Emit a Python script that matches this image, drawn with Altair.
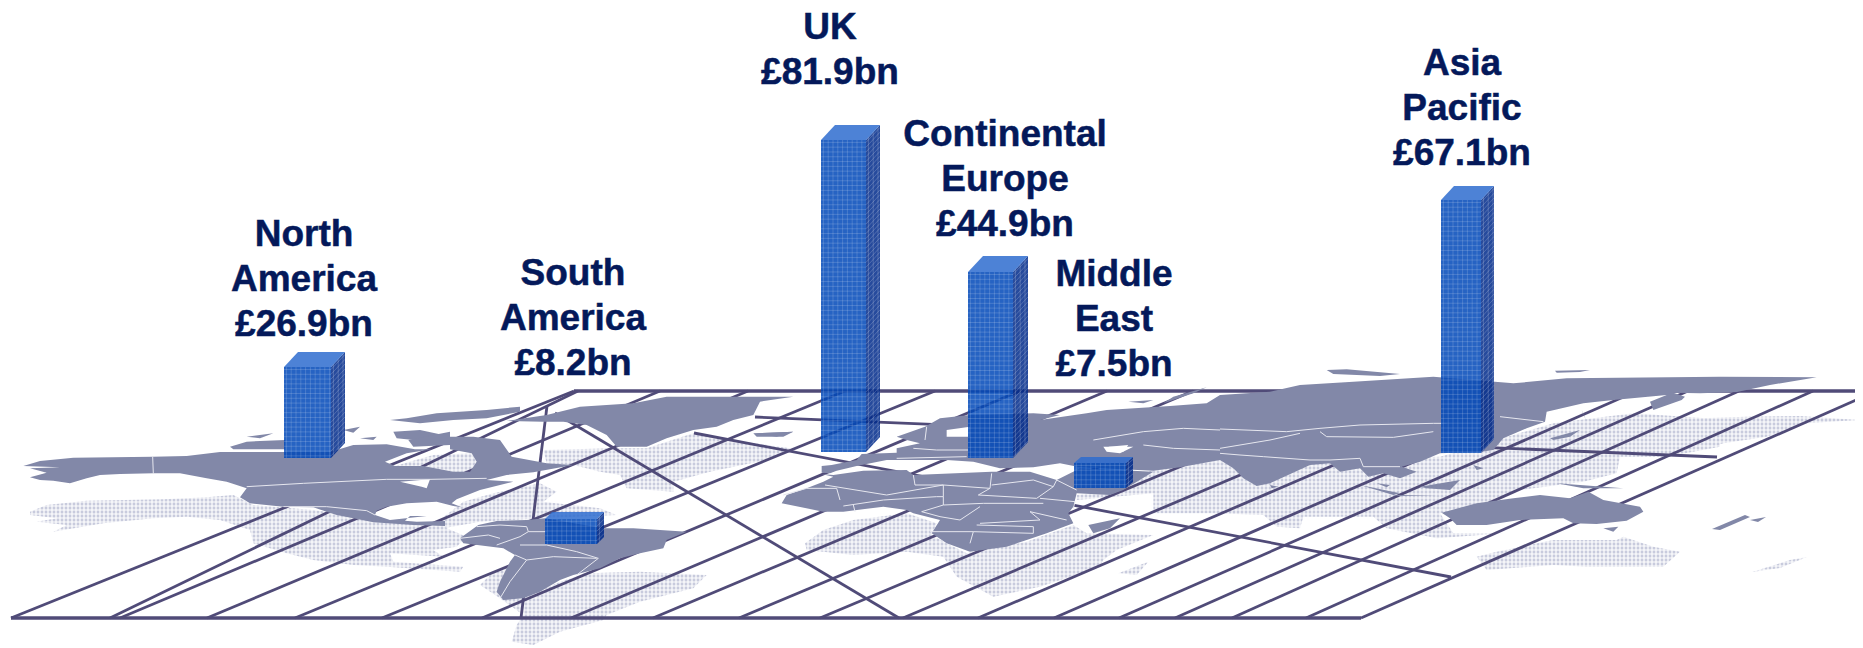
import altair as alt
import pandas as pd

# ---------- values ----------
REGIONS = ["North America", "South America", "UK", "Continental Europe", "Middle East", "Asia Pacific"]
VALUES = [26.9, 8.2, 81.9, 44.9, 7.5, 67.1]
BAR_LEFT = [284, 545, 821, 968, 1074, 1441]
BAR_RIGHT = [331, 597, 866, 1013, 1126, 1481]
BAR_BASE = [458, 544, 452, 458, 488, 453]
BAR_DX = [14, 7, 14, 15, 7, 13]
BAR_DY = [15, 7, 15, 16, 6, 14]
PX_PER_BN = [3.38, 3.05, 3.81, 4.14, 3.33, 3.77]

LABEL_LINES = [["North", "America", "£26.9bn"], ["South", "America", "£8.2bn"], ["UK", "£81.9bn"],
               ["Continental", "Europe", "£44.9bn"], ["Middle", "East", "£7.5bn"], ["Asia", "Pacific", "£67.1bn"]]
LABEL_X = [304, 573, 830, 1005, 1114, 1462]
LABEL_Y0 = [234.5, 273.5, 27.5, 134.5, 274.5, 63.5]
LINE_GAP = 45

GRID_BOTTOM = [11, 110, 120, 207, 295, 382, 482, 571, 653, 739, 820, 903, 978, 1054, 1119, 1175, 1232, 1306]
GRID_TOP = [574, 578, 660, 748, 845, 935, 1020, 1107, 1193, 1280, 1360, 1438, 1506, 1577, 1637, 1688, 1739, 1813]
GRID_Y_BOTTOM, GRID_Y_TOP = 618, 391
EDGE_LINES = [(1361, 618, 1863, 397), (555, 413, 899, 618), (694, 433, 1451, 577), (755, 417, 1717, 457), (547, 406, 521, 618)]
FRAME_LINES = [(11, 618, 1361, 618), (574, 391, 1863, 391)]

Z4, Z5, Z6, Z7, Z9, S = (20, 390), (400, 385), (740, 380), (1220, 360), (1700, 380), None

LAND = [
 (Z4, [(10,228),(60,213),(160,203),(398,200),(500,198),(600,186),(800,186),(930,186),(1000,165),(1100,163),(1185,178),(1235,178),(1160,190),(1095,215),(1125,228),(1210,228),(1300,245),(1350,245),(1370,215),(1355,190),(1290,178),(1290,140),(1360,140),(1440,150),(1475,200),(1580,220),(1660,225),(1540,247),(1460,255),(1400,270),(1480,275),(1380,300),(1310,328),(1295,340),(1325,352),(1300,348),(1250,335),(1160,340),(1100,350),(1070,362),(1065,375),(1110,390),(1220,378),(1170,378),(1155,392),(1190,395),(1275,393),(1275,408),(1180,405),(1060,397),(1000,385),(950,375),(880,352),(790,350),(690,340),(660,322),(680,295),(620,275),(560,265),(480,250),(400,250),(300,252),(240,255),(200,265),(150,280),(100,272),(60,270),(30,262),(80,248),(30,235),(120,232)]),
 (Z4, [(630,170),(680,155),(795,150),(795,178),(640,178)]),
 (Z4, [(680,140),(760,130),(720,145)]),
 (Z4, [(970,120),(1020,110),(1000,128)]),
 (Z4, [(1110,90),(1160,85),(1250,70),(1400,60),(1500,50),(1500,65),(1400,85),(1300,90),(1200,100)]),
 (Z4, [(1120,125),(1200,120),(1270,135),(1180,150),(1130,145)]),
 (Z4, [(1020,145),(1070,140),(1060,150)]),
 (Z4, [(1165,150),(1290,125),(1290,165),(1180,170)]),
 (Z5, [(320,108),(440,90),(540,65),(700,55),(800,35),(1000,35),(1180,35),(1080,50),(1060,90),(1000,105),(950,125),(880,135),(800,160),(740,185),(650,185),(620,150),(560,120),(490,110),(430,110)]),
 (Z5, [(180,460),(235,420),(290,408),(380,405),(435,400),(610,430),(700,430),(860,440),(800,465),(790,490),(720,505),(660,520),(600,550),(520,570),(480,585),(420,620),(370,640),(310,645),(290,620),(300,590),(330,530),(345,510),(310,490),(190,475)]),
 (Z5, [(1060,145),(1180,140),(1130,155)]),
 (Z6, [(245,258),(275,255),(350,240),(365,222),(470,218),(470,205),(540,190),(500,180),(470,170),(555,140),(600,115),(690,105),(880,100),(960,105),(900,120),(1040,100),(1100,90),(1290,78),(1400,70),(1440,45),(1590,35),(1680,15),(1840,5),(2080,-10),(2320,10),(2480,-5),(2940,-10),(3230,-8),(3090,15),(2991,36),(2880,40),(2800,38),(2835,50),(2825,60),(2740,90),(2730,65),(2780,45),(2620,60),(2530,70),(2420,95),(2415,125),(2360,145),(2290,175),(2260,210),(2225,215),(2100,220),(2040,245),(1985,260),(2030,275),(1980,295),(1930,280),(1885,290),(1860,265),(1800,275),(1770,250),(1710,255),(1590,310),(1550,318),(1510,295),(1480,265),(1440,240),(1320,262),(1240,272),(1020,262),(960,250),(880,262),(780,265),(700,245),(620,240),(560,240),(440,240),(350,258),(290,272),(270,280),(245,278)]),
 (Z6, [(245,282),(280,285),(370,272),(500,270),(520,285),(755,275),(870,275),(950,300),(1010,270),(1020,265),(1240,275),(1150,330),(1110,345),(1010,340),(1000,380),(985,400),(1000,430),(920,460),(860,480),(800,500),(690,515),(620,490),(575,460),(600,420),(520,400),(500,390),(430,380),(310,395),(250,395),(125,370),(140,345),(200,325),(250,305),(280,290)]),
 (Z6, [(40,160),(160,155),(130,170),(50,170)]),
 (Z6, [(1045,435),(1140,415),(1110,445),(1060,460)]),
 (Z6, [(1165,65),(1240,60),(1210,70)]),
 (Z6, [(1270,70),(1360,40),(1400,22),(1300,50)]),
 (Z7, [(320,30),(380,28),(540,42),(480,48),(340,42)]),
 (Z7, [(1005,32),(1110,30),(1080,36),(1010,38)]),
 (Z7, [(990,235),(1080,210),(1050,230),(1000,240)]),
 (Z7, [(1085,150),(1100,185),(1090,160)]),
 (Z7, [(600,380),(720,360),(690,390),(620,385)]),
 (Z7, [(1010,370),(1210,385),(1090,385)]),
 (Z7, [(470,370),(510,375),(500,382)]),
 (Z7, [(420,375),(540,400),(520,405)]),
 (Z7, [(520,405),(650,405),(540,408)]),
 (Z7, [(760,315),(790,325),(770,330)]),
 (Z7, [(150,375),(175,380),(155,385)]),
 (Z7, [(665,458),(770,430),(880,415),(960,405),(1050,415),(1105,395),(1150,420),(1260,440),(1270,455),(1220,482),(1130,492),(1060,490),(1030,475),(900,480),(800,495),(710,495),(690,475)]),
 (Z7, [(1150,505),(1195,500),(1180,515)]),
 (S, [(1712,529),(1745,515),(1750,517),(1720,530)]),
 (S, [(1750,520),(1766,517),(1758,522)]),
]

DOTS = [
 (Z4, [(30,365),(80,345),(200,332),(430,328),(560,322),(640,315),(700,345),(880,360),(1060,385),(1270,410),(1340,440),(1310,470),(1240,480),(1270,500),(1110,490),(1120,515),(1330,530),(1320,545),(1100,530),(1000,525),(880,510),(800,490),(700,460),(690,420),(600,390),(500,380),(400,385),(250,400),(100,425),(140,405),(50,395),(110,385),(30,375)]),
 (Z4, [(1125,228),(1210,228),(1300,245),(1350,245),(1370,215),(1355,190),(1240,195)]),
 (Z5, [(430,195),(640,190),(740,190),(880,145),(1000,165),(1170,190),(1100,225),(930,260),(820,290),(820,320),(680,310),(660,270),(600,260),(520,240),(440,235)]),
 (Z5, [(190,350),(280,325),(420,295),(470,320),(430,350),(600,370),(650,390),(430,400),(240,410),(130,430),(0,440),(0,490),(120,470),(180,470),(100,420)]),
 (Z5, [(240,600),(280,560),(330,545),(300,620),(370,640),(480,590),(560,565),(720,560),(920,570),(880,610),(720,650),(620,690),(610,705),(480,740),(400,780),(335,770),(350,720),(370,690),(300,640)]),
 (Z6, [(195,490),(250,450),(340,420),(500,400),(590,430),(575,465),(620,490),(680,520),(860,485),(1000,435),(1040,460),(1240,465),(1130,510),(1090,540),(1080,560),(900,620),(760,650),(650,590),(610,530),(500,515),(340,525),(200,510)]),
 (Z6, [(1135,580),(1225,545),(1190,585)]),
 (Z7, [(-430,405),(-280,390),(-200,325),(0,300),(660,290),(1000,190),(1240,160),(1460,175),(1500,180),(1500,260),(1340,290),(1200,290),(1190,340),(1090,365),(900,390),(770,440),(660,460),(700,520),(850,520),(650,535),(500,505),(460,470),(250,470),(240,505),(170,500),(130,465),(-20,460),(-200,460),(-200,400),(-430,420)]),
 (Z7, [(770,590),(830,575),(1000,540),(1190,540),(1210,530),(1300,560),(1380,575),(1330,620),(1100,620),(1000,615),(800,630)]),
 (Z9, [(0,115),(140,110),(300,108),(480,120),(320,130),(200,170),(70,190),(0,210)]),
 (S, [(1752,572),(1790,560),(1807,557),(1780,568)]),
]

SEAS = [
 (Z6, [(1090,200),(1180,200),(1140,220),(1100,215)]),
 (Z6, [(620,150),(690,140),(690,170),(620,170)]),
 (Z6, [(1105,200),(1165,195),(1150,215)]),
 (Z4, [(1140,275),(1230,268),(1220,295),(1205,290)]),
]

BORDERS = [
 (Z4, [(398,200),(400,252)]),
 (Z4, [(680,290),(850,280),(1100,268),(1230,268),(1400,265)]),
 (Z4, [(790,350),(920,350),(1040,362),(1065,375)]),
 (Z5, [(230,425),(300,420),(380,425),(385,440),(440,440)]),
 (Z5, [(290,480),(360,455),(385,440)]),
 (Z5, [(360,480),(440,480),(530,500),(595,520),(530,570)]),
 (Z5, [(345,510),(380,525),(330,590),(300,640)]),
 (Z5, [(380,525),(460,515),(590,520)]),
 (Z5, [(180,460),(265,450),(300,460)]),
 (Z6, [(130,345),(200,325),(290,325),(300,360)]),
 (Z6, [(255,315),(440,345),(610,315),(750,325),(755,280)]),
 (Z6, [(520,285),(525,315),(610,315),(610,350),(610,375)]),
 (Z6, [(755,315),(880,300),(940,320),(890,355),(715,345),(750,325)]),
 (Z6, [(610,375),(730,370),(910,370)]),
 (Z6, [(310,378),(430,360),(590,350),(610,350)]),
 (Z6, [(340,375),(345,395)]),
 (Z6, [(610,375),(545,395),(600,410),(660,420),(720,380)]),
 (Z6, [(720,430),(900,420),(870,395),(980,420)]),
 (Z6, [(570,455),(700,455),(880,460),(880,440),(710,435)]),
 (Z6, [(700,455),(690,490)]),
 (Z6, [(900,355),(1005,365),(1000,385)]),
 (Z6, [(1010,330),(950,300),(940,320)]),
 (Z6, [(520,205),(590,210),(685,210)]),
 (Z6, [(470,235),(680,230)]),
 (Z6, [(560,140),(555,180)]),
 (Z6, [(1060,180),(1210,155),(1330,145),(1440,150)]),
 (Z6, [(1210,195),(1300,205),(1440,210)]),
 (Z7, [(0,207),(200,215),(300,205),(420,195),(640,190),(680,190)]),
 (Z7, [(300,215),(320,230),(520,232),(640,215)]),
 (Z7, [(240,220),(150,240),(0,265)]),
 (Z7, [(0,280),(60,285),(130,290),(270,300),(330,300),(420,295),(430,320),(540,320)]),
 (Z7, [(840,170),(970,185)]),
]

INK, GRID, LAND_FILL, DOT_FILL = "#04195A", "#504B78", "#8288A8", "#C8CBDD"
FRONT, SIDE, TOP = "#0048B9", "#002A8B", "#2E6CCF"
DOT_PITCH, WEAVE = 4.0, 4.8

# ---------- tables ----------
def to_screen(origin, pts):
    if origin is None:
        return pts
    return [(origin[0] + x / 3, origin[1] + y / 3) for x, y in pts]

def shapes(items):
    rows = []
    for k, (origin, pts) in enumerate(items):
        for i, (x, y) in enumerate(to_screen(origin, pts)):
            rows.append({"id": k, "i": i, "x": x, "y": y})
    return pd.DataFrame(rows)

X = alt.X("x:Q", axis=None, scale=alt.Scale(domain=[8, 1855], nice=False, zero=False))
Y = alt.Y("y:Q", axis=None, scale=alt.Scale(domain=[648, 8], nice=False, zero=False))

def fill_layer(df, fill, opacity=1.0):
    return alt.Chart(df).mark_line(fill=fill, stroke=fill, strokeWidth=0, opacity=opacity, clip=True).encode(
        x=X, y=Y, detail="id:N", order="i:Q")

def seg_layer(df, color, width, opacity=1.0):
    return alt.Chart(df).mark_rule(color=color, strokeWidth=width, opacity=opacity, clip=True).encode(
        x=X, y=Y, x2="x2:Q", y2="y2:Q")

segs = [{"x": b, "y": GRID_Y_BOTTOM, "x2": t, "y2": GRID_Y_TOP} for b, t in zip(GRID_BOTTOM, GRID_TOP)]
segs += [{"x": a, "y": b, "x2": c, "y2": d} for a, b, c, d in EDGE_LINES]
grid = pd.DataFrame(segs)
frame = pd.DataFrame([{"x": a, "y": b, "x2": c, "y2": d} for a, b, c, d in FRAME_LINES])

# stipple of the ocean shadows: a white lattice that shows only on the shadow fill
lattice = []
x = 8.0
while x < 1855:
    lattice.append({"x": x, "y": 370, "x2": x, "y2": 648})
    x += DOT_PITCH
y = 370.0
while y < 648:
    lattice.append({"x": 8, "y": y, "x2": 1855, "y2": y})
    y += DOT_PITCH
lattice = pd.DataFrame(lattice)

front, side, top, weave, weave_side = [], [], [], [], []
for k in range(len(REGIONS)):
    L, R, B, dx, dy = BAR_LEFT[k], BAR_RIGHT[k], BAR_BASE[k], BAR_DX[k], BAR_DY[k]
    T = B - VALUES[k] * PX_PER_BN[k]
    for target, quad in ((front, [(L, T), (R, T), (R, B), (L, B)]),
                         (side, [(R, T), (R + dx, T - dy), (R + dx, B - dy), (R, B)]),
                         (top, [(L, T), (L + dx, T - dy), (R + dx, T - dy), (R, T)])):
        for i, (x, y) in enumerate(quad):
            target.append({"id": k, "i": i, "x": x, "y": y})
    x = L + WEAVE / 2
    while x < R:
        weave.append({"x": x, "y": T, "x2": x, "y2": B})
        x += WEAVE
    y = T + WEAVE / 2
    while y < B:
        weave.append({"x": L, "y": y, "x2": R, "y2": y})
        weave_side.append({"x": R, "y": y, "x2": R + dx, "y2": y - dy})
        y += WEAVE
    x = R + WEAVE / 2
    while x < R + dx:
        f = (x - R) / dx
        weave_side.append({"x": x, "y": T - f * dy, "x2": x, "y2": B - f * dy})
        x += WEAVE

labels = pd.DataFrame([{"x": LABEL_X[k], "y": LABEL_Y0[k] + j * LINE_GAP, "t": t}
                       for k, lines in enumerate(LABEL_LINES) for j, t in enumerate(lines)])
text = alt.Chart(labels).mark_text(font="Liberation Sans", fontWeight="bold", fontSize=37, color=INK,
                                   stroke=INK, strokeWidth=0.5, align="center", baseline="middle").encode(
    x=X, y=Y, text="t:N")

chart = alt.layer(
    fill_layer(shapes(DOTS), DOT_FILL),
    seg_layer(lattice, "#FFFFFF", 1.2),
    seg_layer(grid, GRID, 2.8),
    seg_layer(frame, GRID, 3.5),
    fill_layer(shapes(LAND), LAND_FILL),
    fill_layer(shapes(SEAS), "#FFFFFF"),
    alt.Chart(shapes(BORDERS)).mark_line(color="#E6E7EF", strokeWidth=1, clip=True).encode(
        x=X, y=Y, detail="id:N", order="i:Q"),
    fill_layer(pd.DataFrame(front), FRONT, opacity=0.85),
    fill_layer(pd.DataFrame(side), SIDE, opacity=0.85),
    fill_layer(pd.DataFrame(top), TOP, opacity=0.85),
    seg_layer(pd.DataFrame(weave), "#FFFFFF", 1, opacity=0.16),
    seg_layer(pd.DataFrame(weave_side), "#FFFFFF", 1, opacity=0.2),
    text,
).properties(width=1847, height=640, padding=0, autosize=alt.AutoSizeParams(type="none")).configure_view(stroke=None)

chart.save("out.html", embed_options={"renderer": "svg", "actions": False})
